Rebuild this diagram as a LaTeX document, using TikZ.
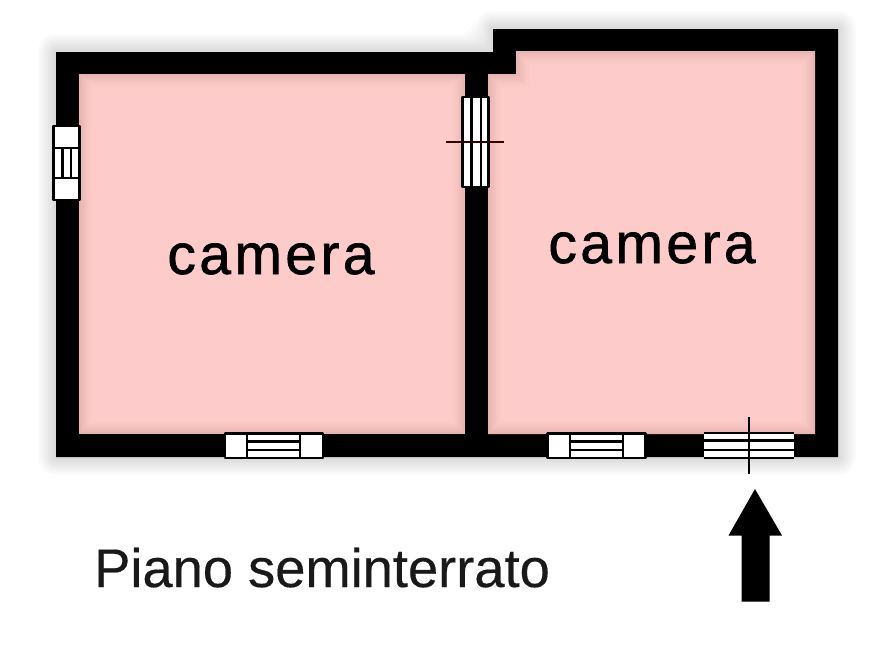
\documentclass[tikz,border=0pt]{standalone}
\usepackage{fontspec}
\setmainfont[RawFeature={embolden=0.3}]{Liberation Sans}
\newfontfamily\camfont[LetterSpace=6,RawFeature={embolden=1.2}]{Liberation Sans}
\definecolor{rm0}{HTML}{E6B4B1}
\tikzset{
  wallfill/.style={fill=black,draw=none},
  openbox/.style={draw=black,line width=2.8pt,fill=white,line join=round},
  opline/.style={draw=black,line width=2.8pt},
  crossline/.style={draw=black!80!red,line width=2.2pt},
  camlabel/.style={inner sep=0pt,anchor=base,font=\camfont\fontsize{57}{57}\selectfont,text=black},
}
\begin{document}
\begin{tikzpicture}[x=1pt,y=-1pt]
\useasboundingbox (0,0) rectangle (893,670);
\fill[white] (0,0) rectangle (893,670);
% soft shadow
\foreach \o in {18,16,...,2}{
  \fill[black,opacity=0.014,rounded corners=\o pt] (56-\o,52-\o) -- (493-\o,52-\o) -- (493-\o,29-\o) -- (838+\o,29-\o) -- (838+\o,457+\o) -- (56-\o,457+\o) -- cycle;
}
% walls
\fill[wallfill] (56,52) -- (493,52) -- (493,29) -- (838,29) -- (838,457) -- (56,457) -- cycle;
% rooms
\fill[rm0] (79,74) rectangle (465,434);
\fill[rm0] (516,51) -- (815,51) -- (815,434) -- (488,434) -- (488,74) -- (516,74) -- cycle;
\foreach \o/\c in {2/EBB9B6,4/EFBDBA,6/F3C1BE,8/F7C5C2,10/FAC8C5,13/FDCBC9}{
  \definecolor{rm}{HTML}{\c}
  \fill[rm] (79+\o,74+\o) rectangle (465-\o,434-\o);
  \fill[rm] (516+\o,51+\o) -- (815-\o,51+\o) -- (815-\o,434-\o) -- (488+\o,434-\o) -- (488+\o,74+\o) -- (516+\o,74+\o) -- cycle;
}
% left window
\draw[openbox] (53.5,126) rectangle (79.5,200);
\draw[opline] (53.5,148) -- (79.5,148) (53.5,178) -- (79.5,178) (62.5,148) -- (62.5,178) (71,148) -- (71,178);
% inner door
\draw[openbox] (462.5,97) rectangle (488.5,187);
\draw[opline] (471.5,97) -- (471.5,187) (481,97) -- (481,187);
\draw[crossline] (446,142) -- (504,142);
% bottom windows
\draw[openbox] (225,433.5) rectangle (323,458);
\draw[opline] (247,433.5) -- (247,458) (300,433.5) -- (300,458) (247,441.5) -- (300,441.5) (247,450) -- (300,450);
\draw[openbox] (547.5,433.5) rectangle (645.5,458);
\draw[opline] (570,433.5) -- (570,458) (623,433.5) -- (623,458) (570,441.5) -- (623,441.5) (570,450) -- (623,450);
% entrance door
\fill[white] (704,433) rectangle (794,458);
\draw[opline] (704,433) -- (794,433) (704,440.5) -- (794,440.5) (704,450) -- (794,450) (704,458) -- (794,458);
\draw[opline] (749,417) -- (749,474);
% arrow
\fill[black] (755,489) -- (782,535.5) -- (769.5,535.5) -- (769.5,601.5) -- (741.5,601.5) -- (741.5,535.5) -- (728.5,535.5) -- cycle;
% labels
\node[camlabel] (cam1) at (271,274) {camera};
\node[camlabel] (cam2) at (652,263) {camera};
\node[inner sep=0pt,anchor=base west,font=\fontsize{54.3}{54}\selectfont,text=black!90] (lev) at (94,587) {Piano seminterrato};
\end{tikzpicture}
\end{document}
